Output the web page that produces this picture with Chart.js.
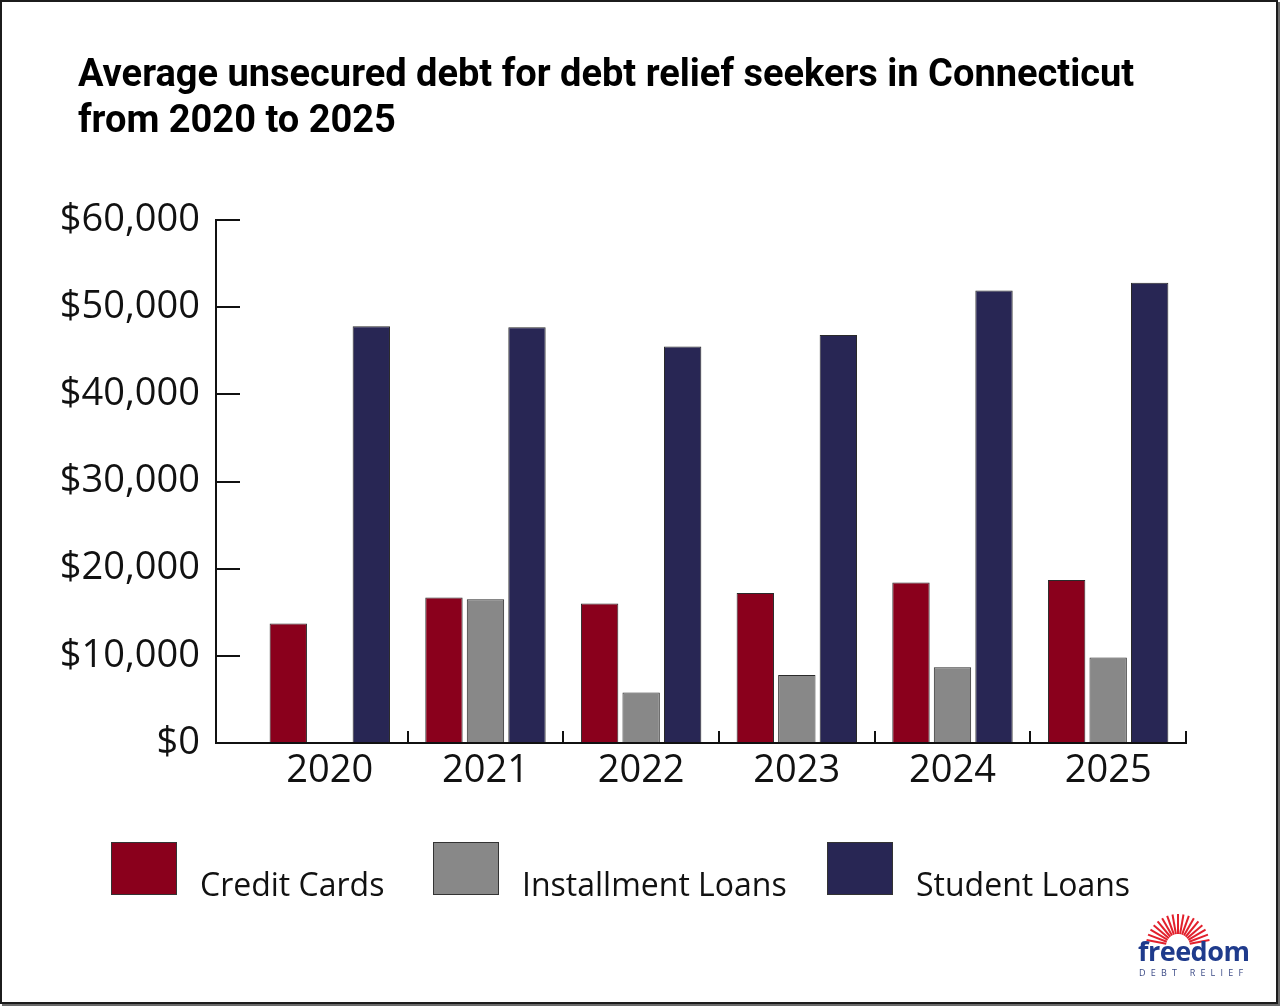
<!DOCTYPE html>
<html>
<head>
<meta charset="utf-8">
<script src="https://cdn.jsdelivr.net/npm/chart.js@4.4.1/dist/chart.umd.min.js"></script>
<style>
  body { margin: 0; background: #fff; }
  .frame { position: relative; width: 1280px; height: 1006px; overflow: hidden; background: #fff; }
  .border { position: absolute; left: 0; top: 0; width: 1274px; height: 1000px; border: 2px solid #1c1c1c; box-shadow: 2px 2px 0 #6a6a6a; }
  canvas { position: absolute; left: 0; top: 0; }
  .title { position: absolute; left: 78px; top: 50px; font: 700 38px Roboto, sans-serif; line-height: 46px; color: #000; }
  .legend-item { position: absolute; top: 842px; height: 53px; }
  .legend-box { position: absolute; left: 0; top: 0; width: 64px; height: 51px; border: 1px solid #333; }
  .legend-text { position: absolute; left: 89px; top: 20px; font: 32px "Open Sans", sans-serif; white-space: nowrap; color: #111; }
  .logo { position: absolute; left: 1134px; top: 910px; width: 124px; height: 70px; }
  .logo .word { position: absolute; left: 4px; top: 22px; font: 700 27px "Open Sans", sans-serif; color: #1f3b8c; letter-spacing: -0.5px; }
  .logo .sub { position: absolute; left: 5px; top: 56px; font: 9px "Open Sans", sans-serif; color: #3b4a86; letter-spacing: 5.2px; }
</style>
</head>
<body>
<div class="frame">
  <div class="border"></div>
  <canvas id="chart" width="1280" height="1006"></canvas>
  <div class="title">Average unsecured debt for debt relief seekers in Connecticut<br>from 2020 to 2025</div>
  <div id="legend"></div>
  <div class="logo">
    <svg id="rays" width="124" height="40" style="position:absolute;left:0;top:0"></svg>
    <div class="word">freedom</div>
    <div class="sub">DEBT RELIEF</div>
  </div>
</div>
<script>
const years = ['2020', '2021', '2022', '2023', '2024', '2025'];
const seriesNames = ['Credit Cards', 'Installment Loans', 'Student Loans'];
const creditCards = [13700, 16700, 16000, 17200, 18400, 18700];
const installmentLoans = [0, 16500, 5800, 7800, 8700, 9800];
const studentLoans = [47800, 47700, 45500, 46800, 51900, 52800];
const seriesColors = ['#8a001c', '#888888', '#282654'];
const yTicks = [0, 10000, 20000, 30000, 40000, 50000, 60000];

const tickFont = { family: 'Open Sans', size: 38 };

const legendEl = document.getElementById('legend');
const legendLeft = [111, 433, 827];
seriesNames.forEach((name, i) => {
    const item = document.createElement('div');
    item.className = 'legend-item';
    item.style.left = legendLeft[i] + 'px';
    item.innerHTML = '<div class="legend-box" style="background:' + seriesColors[i] + '"></div>' +
        '<div class="legend-text">' + name + '</div>';
    legendEl.appendChild(item);
});

// sunburst above the logo word
const rays = document.getElementById('rays');
for (let k = 0; k <= 16; k++) {
    const a = Math.PI * (0.06 + 0.88 * k / 16);
    const cx = 44, cy = 36;
    const x1 = cx - Math.cos(a) * 12, y1 = cy - Math.sin(a) * 12;
    const x2 = cx - Math.cos(a) * 32, y2 = cy - Math.sin(a) * 32;
    const l = document.createElementNS('http://www.w3.org/2000/svg', 'line');
    l.setAttribute('x1', x1); l.setAttribute('y1', y1);
    l.setAttribute('x2', x2); l.setAttribute('y2', y2);
    l.setAttribute('stroke', '#e2202c');
    l.setAttribute('stroke-width', '2');
    rays.appendChild(l);
}

const ctx = document.getElementById('chart');
new Chart(ctx, {
    type: 'bar',
    data: {
        labels: years,
        datasets: [
            { label: seriesNames[0], data: creditCards, backgroundColor: seriesColors[0] },
            { label: seriesNames[1], data: installmentLoans, backgroundColor: seriesColors[1] },
            { label: seriesNames[2], data: studentLoans, backgroundColor: seriesColors[2] }
        ]
    },
    options: {
        responsive: false,
        animation: false,
        layout: { padding: { top: 220, right: 94, bottom: 203, left: 0 } },
        datasets: {
            bar: { categoryPercentage: 0.8, barPercentage: 0.9, borderWidth: 1, borderColor: '#2a2a2a' }
        },
        plugins: { legend: { display: false }, tooltip: { enabled: false } },
        scales: {
            x: {
                type: 'linear',
                offset: false,
                min: 2019.269,
                max: 2025.5,
                afterFit: (s) => { s.height = 60; },
                ticks: {
                    stepSize: 1,
                    includeBounds: false,
                    padding: 17,
                    color: '#111',
                    font: tickFont,
                    callback: (v) => String(v)
                },
                grid: {
                    offset: true,
                    drawOnChartArea: false,
                    tickLength: -12,
                    lineWidth: 2,
                    color: (c) => c.index === 0 ? 'rgba(0,0,0,0)' : '#111'
                },
                border: { color: '#111', width: 2 }
            },
            y: {
                min: 0,
                max: 60000,
                afterFit: (s) => { s.width = 216; },
                afterBuildTicks: (s) => { s.ticks = yTicks.map(v => ({ value: v })); },
                ticks: {
                    padding: 40,
                    color: '#111',
                    font: tickFont,
                    callback: (v) => '$' + v.toLocaleString('en-US')
                },
                grid: {
                    drawOnChartArea: false,
                    tickLength: -24,
                    lineWidth: 2,
                    color: '#111'
                },
                border: { color: '#111', width: 2 }
            }
        }
    }
});
</script>
</body>
</html>
